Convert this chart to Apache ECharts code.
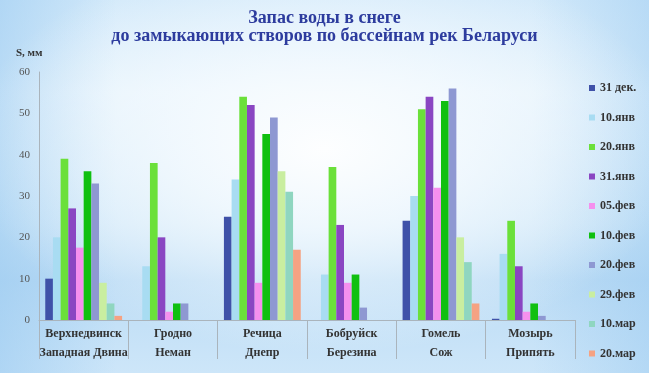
<!DOCTYPE html>
<html>
<head>
<meta charset="utf-8">
<script src="https://cdn.jsdelivr.net/npm/echarts@6/dist/echarts.min.js"></script>
<style>
html,body{margin:0;padding:0;width:649px;height:373px;overflow:hidden;}
body{background:
  radial-gradient(ellipse 55% 55% at 50% 40%, rgba(255,255,255,0.95) 0%, rgba(248,252,255,0.75) 40%, rgba(255,255,255,0) 100%),
  linear-gradient(to right, rgba(150,200,240,0.55) 0%, rgba(150,200,240,0) 18%, rgba(150,200,240,0) 82%, rgba(150,200,240,0.45) 100%),
  linear-gradient(to bottom, #d2e9fa 0%, #e4f2fc 25%, #cfe7f8 60%, #bcdcf5 75%, #cde6f9 100%);}
#chart{width:649px;height:373px;}
</style>
</head>
<body>
<div id="chart"></div>
<script>
const cities = ['Верхнедвинск','Гродно','Речица','Бобруйск','Гомель','Мозырь'];
const rivers = ['Западная Двина','Неман','Днепр','Березина','Сож','Припять'];
const seriesNames = ['31 дек.','10.янв','20.янв','31.янв','05.фев','10.фев','20.фев','29.фев','10.мар','20.мар'];
const s31dec = [10, 0, 25, 0, 24, 0.3];
const s10jan = [20, 13, 34, 11, 30, 16];
const s20jan = [39, 38, 54, 37, 51, 24];
const s31jan = [27, 20, 52, 23, 54, 13];
const s05feb = [17.5, 2, 9, 9, 32, 2];
const s10feb = [36, 4, 45, 11, 53, 4];
const s20feb = [33, 4, 49, 3, 56, 1];
const s29feb = [9, 0, 36, 0, 20, 0];
const s10mar = [4, 0, 31, 0, 14, 0];
const s20mar = [1, 0, 17, 0, 4, 0];
const yTicks = [0, 10, 20, 30, 40, 50, 60];

const seriesData = [s31dec, s10jan, s20jan, s31jan, s05feb, s10feb, s20feb, s29feb, s10mar, s20mar];
const colors = ['#3F51A8','#A8DCF2','#6BE03A','#8A46C2','#F590EE','#10C010','#8E98D2','#C9EEA0','#8FD6C0','#F5A282'];
const serif = '"Liberation Serif", "DejaVu Serif", serif';

const chart = echarts.init(document.getElementById('chart'), null, {renderer: 'canvas'});
chart.setOption({
  backgroundColor: 'transparent',
  animation: false,
  color: colors,
  title: {
    text: 'Запас воды в снеге\nдо замыкающих створов по бассейнам рек Беларуси',
    left: 'center',
    top: 4,
    textStyle: {fontFamily: serif, fontSize: 18, fontWeight: 'bold', color: '#2D3C9E', lineHeight: 18}
  },
  graphic: [{
    type: 'text', left: 16, top: 48,
    style: {text: 'S, мм', fontFamily: serif, fontSize: 11, fontWeight: 'bold', fill: '#333'}
  }],
  legend: {
    orient: 'vertical',
    left: 584, top: 77,
    itemWidth: 6, itemHeight: 6, itemGap: 17.5,
    icon: 'rect',
    textStyle: {fontFamily: serif, fontSize: 12, fontWeight: 'bold', color: '#333'},
    data: seriesNames
  },
  grid: {left: 39, right: 74, top: 72, bottom: 53, containLabel: false},
  xAxis: {
    type: 'category',
    data: cities.map((c, i) => c + '\n' + rivers[i]),
    axisLine: {lineStyle: {color: '#aab4bc', width: 1}},
    axisTick: {show: true, length: 39, interval: 0, lineStyle: {color: '#aab4bc'}},
    axisLabel: {interval: 0, margin: 4, fontFamily: serif, fontSize: 12, fontWeight: 'bold', color: '#333', lineHeight: 19}
  },
  yAxis: {
    type: 'value', min: yTicks[0], max: yTicks[yTicks.length - 1], interval: 10,
    splitLine: {show: false},
    axisLine: {show: true, lineStyle: {color: '#aab4bc'}},
    axisTick: {show: false},
    axisLabel: {fontFamily: serif, fontSize: 11, color: '#555', margin: 9}
  },
  series: seriesNames.map((n, i) => ({
    name: n, type: 'bar', data: seriesData[i],
    barGap: '0%', barCategoryGap: '14%',
    itemStyle: {color: colors[i]}
  }))
});
</script>
</body>
</html>
